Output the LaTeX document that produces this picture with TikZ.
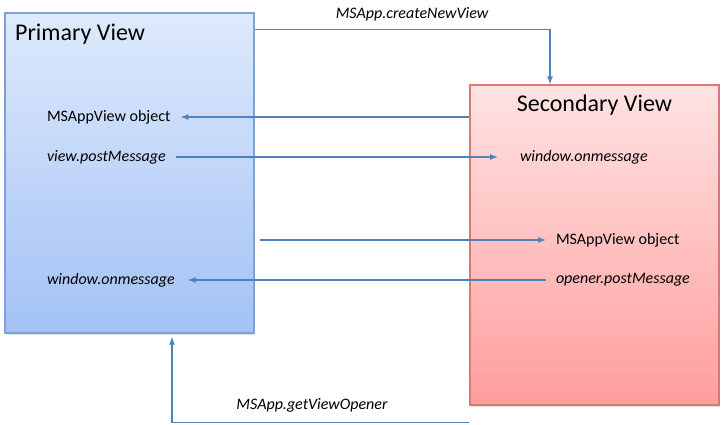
\documentclass[tikz,border=0pt]{standalone}
\usepackage{fontspec}
\setmainfont{Carlito}
\usetikzlibrary{shadows}
\definecolor{primtop}{RGB}{222,234,252}
\definecolor{primbot}{RGB}{163,194,245}
\definecolor{primline}{RGB}{126,162,212}
\definecolor{sectop}{RGB}{255,227,227}
\definecolor{secbot}{RGB}{255,158,158}
\definecolor{secline}{RGB}{218,120,120}
\definecolor{arrowblue}{RGB}{79,129,189}
\tikzset{
  viewbox/.style={draw, line width=1.2pt, minimum width=249pt, minimum height=320pt,
    inner sep=0pt, drop shadow={shadow xshift=1pt, shadow yshift=-1.5pt, opacity=0.25}},
  msg/.style={font=\fontsize{16}{18}\selectfont, inner sep=0pt, outer xsep=10pt},
  call/.style={font=\fontsize{16}{18}\selectfont\itshape, inner sep=0pt},
  arr/.style={draw=arrowblue, line width=1.2pt, -{Latex[length=8pt,width=6pt]}}
}
\usetikzlibrary{arrows.meta}
\begin{document}
\begin{tikzpicture}[x=1pt,y=-1pt]
  \useasboundingbox (0,0) rectangle (724,424);
  % the two views
  \node[viewbox, draw=primline, top color=primtop, bottom color=primbot] (primary) at (129.5,173) {};
  \node[viewbox, draw=secline, top color=sectop, bottom color=secbot] (secondary) at (594.5,245) {};
  \node[anchor=west, inner sep=0pt, font=\fontsize{24}{26}\selectfont] (ptitle) at (15,34) {Primary View};
  \node[inner sep=0pt, font=\fontsize{24}{26}\selectfont] (stitle) at (594.5,105) {Secondary View};
  % texts inside the views
  \node[msg, anchor=west] (pobj) at (37,117) {MSAppView object};
  \node[msg, anchor=west, font=\fontsize{16}{18}\selectfont\itshape] (ppost) at (37,157) {view.postMessage};
  \node[msg, anchor=west, font=\fontsize{16}{18}\selectfont\itshape, outer xsep=13pt] (pwin) at (34,280) {window.onmessage};
  \node[msg, anchor=west, font=\fontsize{16}{18}\selectfont\itshape, outer xsep=22pt] (swin) at (498,157) {window.onmessage};
  \node[msg, anchor=west] (sobj) at (546,240) {MSAppView object};
  \node[msg, anchor=west, font=\fontsize{16}{18}\selectfont\itshape] (sopen) at (546,280) {opener.postMessage};
  % calls between the views
  \node[call] (create) at (412,14) {MSApp.createNewView};
  \node[call] (opener) at (312,405) {MSApp.getViewOpener};
  \draw[arr] ([yshift=-17pt]primary.north east) -| ([xshift=-44.5pt]secondary.north);
  \draw[arr] (secondary.west |- pobj) -- (pobj.east);
  \draw[arr] (ppost.east) -- (swin.west);
  \draw[arr] ([xshift=5pt]primary.east |- sobj) -- (sobj.west);
  \draw[arr] (sopen.west) -- (pwin.east);
  \draw[arr] ([yshift=-17pt]secondary.south west) -| ([xshift=42.5pt,yshift=-3pt]primary.south);
\end{tikzpicture}
\end{document}
